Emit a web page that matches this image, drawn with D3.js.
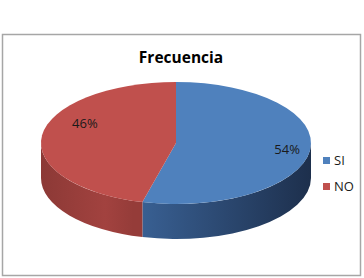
<!DOCTYPE html>
<html>
<head>
<meta charset="utf-8">
<script src="https://cdn.jsdelivr.net/npm/d3@7"></script>
<style>
  html, body { margin: 0; padding: 0; background: #fff; }
  svg { display: block; }
</style>
</head>
<body>
<svg id="chart" width="364" height="278"></svg>
<script>
// data
var categories = ['SI', 'NO'];
var values = [54, 46];
var labels = ['54%', '46%'];
var topColors = ['#4f81bd', '#c0504d'];

var svg = d3.select('#chart');
var cx = 176, cy = 143, rx = 135, ry = 61, depth = 35;

// frame
svg.append('rect')
    .attr('x', 2.5).attr('y', 34.5)
    .attr('width', 358).attr('height', 241)
    .attr('fill', '#fff')
    .attr('stroke', '#a6a6a6')
    .attr('stroke-width', 1.5);

// title
svg.append('text')
    .attr('x', 181).attr('y', 63)
    .attr('text-anchor', 'middle')
    .style('font-family', 'Open Sans, sans-serif')
    .style('font-weight', 'bold')
    .style('font-size', '15.5px')
    .style('fill', '#000')
    .text('Frecuencia');

// side gradients
var defs = svg.append('defs');
var sideStops = [
    [['0%', '#3a6296'], ['100%', '#1d2f4c']],
    [['0%', '#8c3936'], ['70%', '#a2423f'], ['100%', '#953c39']]
];
var gradRanges = [[133, 312], [41, 133]];
sideStops.forEach(function (stops, i) {
    var g = defs.append('linearGradient')
        .attr('id', 'side' + i)
        .attr('gradientUnits', 'userSpaceOnUse')
        .attr('x1', gradRanges[i][0]).attr('x2', gradRanges[i][1])
        .attr('y1', 0).attr('y2', 0);
    stops.forEach(function (s) {
        g.append('stop').attr('offset', s[0]).attr('stop-color', s[1]);
    });
});

var pie = d3.pie().sort(null).value(function (d) { return d; });
var arcs = pie(values);

function pt(a, dy) {
    return [cx + rx * Math.sin(a), cy - ry * Math.cos(a) + (dy || 0)];
}

// sides (front half only, angles between PI/2 and 3PI/2)
arcs.forEach(function (d, i) {
    var a0 = Math.max(d.startAngle, Math.PI / 2);
    var a1 = Math.min(d.endAngle, Math.PI * 1.5);
    if (a1 <= a0) return;
    var p0 = pt(a0), p1 = pt(a1), q1 = pt(a1, depth), q0 = pt(a0, depth);
    var path = 'M' + p0 + ' A' + rx + ',' + ry + ' 0 0 1 ' + p1 +
        ' L' + q1 + ' A' + rx + ',' + ry + ' 0 0 0 ' + q0 + ' Z';
    svg.append('path')
        .attr('d', path)
        .attr('fill', 'url(#side' + i + ')');
});

// top faces
arcs.forEach(function (d, i) {
    var p0 = pt(d.startAngle), p1 = pt(d.endAngle);
    var large = (d.endAngle - d.startAngle) > Math.PI ? 1 : 0;
    var path = 'M' + cx + ',' + cy + ' L' + p0 + ' A' + rx + ',' + ry + ' 0 ' + large + ' 1 ' + p1 + ' Z';
    svg.append('path')
        .attr('d', path)
        .attr('fill', topColors[i]);
});

// data labels
var labelShift = [[0, 0], [20, -14]];
arcs.forEach(function (d, i) {
    var mid = (d.startAngle + d.endAngle) / 2;
    var x = cx + 0.83 * rx * Math.sin(mid) + labelShift[i][0];
    var y = cy - 0.83 * ry * Math.cos(mid) + labelShift[i][1];
    svg.append('text')
        .attr('x', x).attr('y', y + 5)
        .attr('text-anchor', 'middle')
        .style('font-family', 'Open Sans, sans-serif')
        .style('font-size', '13px')
        .style('fill', '#1a1a1a')
        .text(labels[i]);
});

// legend
var legend = svg.append('g').attr('transform', 'translate(323,157)');
var row = d3.scaleBand().domain(categories).range([0, 52]);
categories.forEach(function (c, i) {
    var g = legend.append('g').attr('transform', 'translate(0,' + row(c) + ')');
    g.append('rect')
        .attr('width', 7).attr('height', 7)
        .attr('fill', topColors[i]);
    g.append('text')
        .attr('x', 11).attr('y', 8)
        .style('font-family', 'Open Sans, sans-serif')
        .style('font-size', '13px')
        .style('fill', '#1a1a1a')
        .text(c);
});
</script>
</body>
</html>
